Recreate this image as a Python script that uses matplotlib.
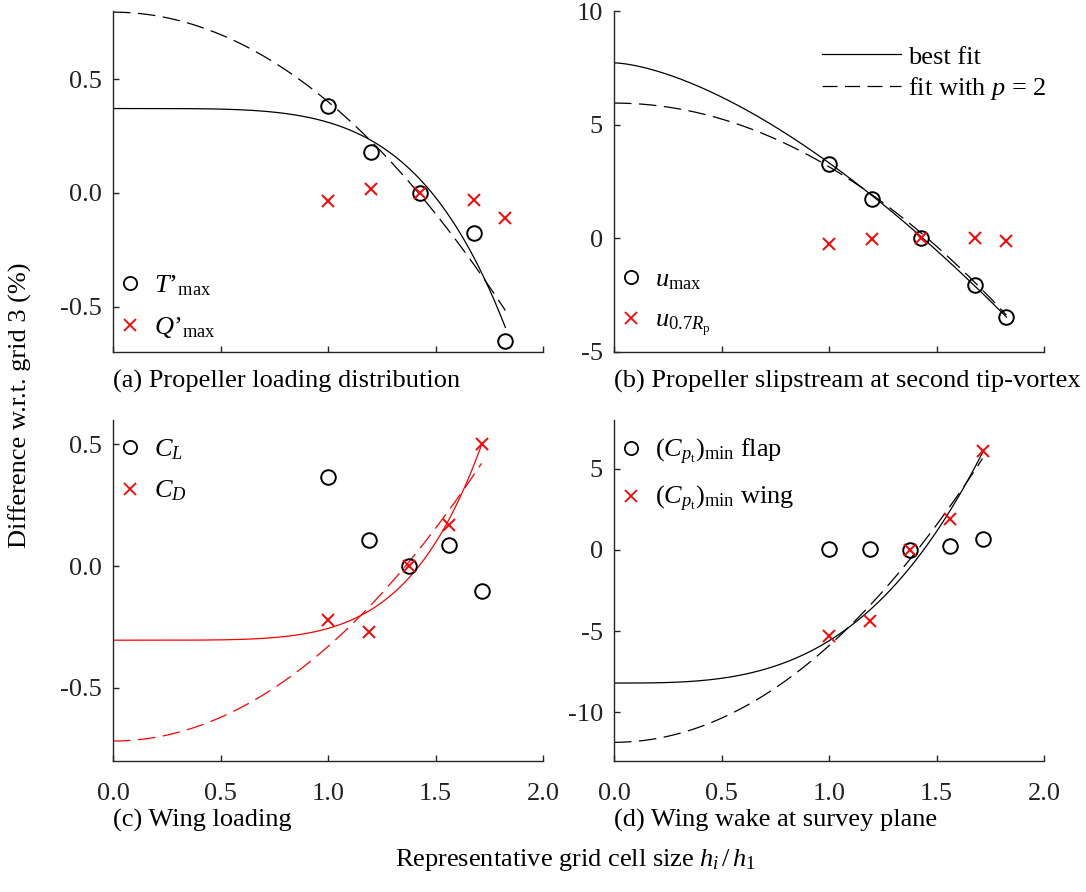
import matplotlib
matplotlib.use("Agg")
import matplotlib.pyplot as plt
from matplotlib.lines import Line2D
import numpy as np

plt.rcParams["font.family"] = ["Liberation Serif", "DejaVu Serif"]
plt.rcParams["mathtext.fontset"] = "custom"
plt.rcParams["mathtext.rm"] = "Liberation Serif"
plt.rcParams["mathtext.it"] = "Liberation Serif:italic"
plt.rcParams["axes.unicode_minus"] = False

# grid size ratios h_i / h_1
h_prop = [1.0, 1.2, 1.43, 1.68, 1.825]
h_wing = [1.0, 1.19, 1.375, 1.565, 1.714]

# (a) propeller loading
T_max = [0.38, 0.18, 0.0, -0.175, -0.65]
Q_max = [-0.035, 0.017, 0.0, -0.03, -0.112]
# fits: [phi0, coef, order]
fit_a_best = [0.371, -0.0605, 4.6]
fit_a_p2 = [0.795, -0.394, 2.0]

# (b) slipstream
u_max = [3.27, 1.74, 0.0, -2.05, -3.46]
u_07R = [-0.27, -0.02, 0.0, 0.0, -0.1]
fit_b_best = [7.72, -4.4, 1.55]
fit_b_p2 = [5.95, -2.8, 2.0]

# (c) wing loading
C_L = [0.365, 0.107, 0.0, 0.087, -0.102]
C_D = [-0.22, -0.27, 0.0, 0.168, 0.5]
fit_c_best = [-0.304, 0.0484, 5.21]
fit_c_p2 = [-0.718, 0.388, 2.0]

# (d) wing wake
Cpt_flap = [0.05, 0.05, 0.0, 0.25, 0.65]
Cpt_wing = [-5.3, -4.4, 0.0, 1.9, 6.1]
fit_d_best = [-8.2, 2.6, 3.15]
fit_d_p2 = [-11.85, 5.95, 2.0]

W, H = 1086, 892
FS = 19
GRAY = "#262626"
RED = (1, 0, 0)
DASH = (0, (14, 6))


def fit_curve(par, hmax):
    h = np.linspace(0, hmax, 300)
    return h, par[0] + par[1] * h ** par[2]


def estilo(ax, ylim, yticks, ylabels, xlabels):
    ax.set_xlim(0, 2.0)
    ax.set_ylim(*ylim)
    ax.set_xticks([0, 0.5, 1.0, 1.5, 2.0])
    if xlabels:
        ax.set_xticklabels(["0.0", "0.5", "1.0", "1.5", "2.0"])
    else:
        ax.set_xticklabels([])
    ax.set_yticks(yticks)
    ax.set_yticklabels(ylabels)
    for s in ["top", "right"]:
        ax.spines[s].set_visible(False)
    for s in ["left", "bottom"]:
        ax.spines[s].set_color(GRAY)
        ax.spines[s].set_linewidth(1.0)
    ax.tick_params(axis="both", direction="in", length=4, width=1.0,
                   colors=GRAY, labelsize=FS, labelcolor="#222222")
    ax.tick_params(axis="x", pad=16)
    ax.tick_params(axis="y", pad=8)
    ax.patch.set_alpha(0)


def marcadores(ax, h, a, b, color_line, fa, fb):
    x1, y1 = fit_curve(fa, h[-1])
    x2, y2 = fit_curve(fb, h[-1])
    ax.plot(x1, y1, "-", color=color_line, lw=0.9)
    ax.plot(x2, y2, color=color_line, lw=0.9, linestyle=DASH)
    ax.plot(h, a, "o", ms=10.5, mfc="none", mec="black", mew=1.4, ls="none")
    ax.plot(h, b, "x", ms=8.5, mec=RED, mew=1.4, ls="none")


def legenda(ax, lab1, lab2, loc, anchor):
    hs = [
        Line2D([], [], marker="o", ms=9.5, mfc="none", mec="black", mew=1.3, ls="none"),
        Line2D([], [], marker="x", ms=8, mec=RED, mew=1.3, ls="none"),
    ]
    leg = ax.legend(hs, [lab1, lab2], loc=loc, bbox_to_anchor=anchor, frameon=False,
                    fontsize=FS, handlelength=0.9, handletextpad=0.45,
                    labelspacing=0.65, borderaxespad=0, borderpad=0)
    return leg


fig = plt.figure(figsize=(W / 100, H / 100), dpi=100)
ax_a = fig.add_axes([113 / W, 1 - 352 / H, 430 / W, 341 / H])
ax_b = fig.add_axes([614 / W, 1 - 352 / H, 430 / W, 341 / H])
ax_c = fig.add_axes([113 / W, 1 - 761 / H, 430 / W, 341 / H])
ax_d = fig.add_axes([614 / W, 1 - 761 / H, 430 / W, 341 / H])

# (a)
marcadores(ax_a, h_prop, T_max, Q_max, "black", fit_a_best, fit_a_p2)
estilo(ax_a, (-0.7, 0.8), [-0.5, 0, 0.5], ["-0.5", "0.0", "0.5"], False)
legenda(ax_a, r"$T$’${}_{\mathrm{max}}$", r"$Q$’${}_{\mathrm{max}}$",
        "lower left", (0.012, 0.035))
ax_a.text(0, -0.087, "(a) Propeller loading distribution", transform=ax_a.transAxes,
          ha="left", va="center", fontsize=FS)

# (b)
marcadores(ax_b, h_prop, u_max, u_07R, "black", fit_b_best, fit_b_p2)
estilo(ax_b, (-5, 10), [-5, 0, 5, 10], ["-5", "0", "5", "10"], False)
lh = [Line2D([], [], color="black", lw=0.9),
      Line2D([], [], color="black", lw=0.9, linestyle=(0, (12, 6)))]
leg2 = ax_b.legend(lh, ["best fit", r"fit with $p$ = 2"], loc="upper right",
                   bbox_to_anchor=(1.007, 0.90), frameon=False, fontsize=FS,
                   handlelength=3.0, handletextpad=0.27, labelspacing=0.25,
                   borderaxespad=0, borderpad=0)
ax_b.add_artist(leg2)
legenda(ax_b, r"$u_{\mathrm{max}}$", r"$u_{0.7R_{\mathrm{p}}}$", "lower left", (0.012, 0.04))
ax_b.text(0, -0.087, "(b) Propeller slipstream at second tip-vortex",
          transform=ax_b.transAxes, ha="left", va="center", fontsize=FS)

# (c)
marcadores(ax_c, h_wing, C_L, C_D, RED, fit_c_best, fit_c_p2)
estilo(ax_c, (-0.8, 0.6), [-0.5, 0, 0.5], ["-0.5", "0.0", "0.5"], True)
legenda(ax_c, r"$C_L$", r"$C_D$", "upper left", (0.012, 0.95))
ax_c.text(0, -0.173, "(c) Wing loading", transform=ax_c.transAxes,
          ha="left", va="center", fontsize=FS)

# (d)
marcadores(ax_d, h_wing, Cpt_flap, Cpt_wing, "black", fit_d_best, fit_d_p2)
estilo(ax_d, (-13, 8), [-10, -5, 0, 5], ["-10", "-5", "0", "5"], True)
legenda(ax_d, r"$(C_{p_{\mathrm{t}}})_{\mathrm{min}}$ flap",
        r"$(C_{p_{\mathrm{t}}})_{\mathrm{min}}$ wing", "upper left", (0.012, 0.95))
ax_d.text(0, -0.173, "(d) Wing wake at survey plane", transform=ax_d.transAxes,
          ha="left", va="center", fontsize=FS)

fig.text(20 / W, 1 - 405 / H, "Difference w.r.t. grid 3 (%)", rotation=90,
         ha="center", va="center", fontsize=FS)
fig.text(575 / W, 1 - 860 / H, r"Representative grid cell size $h_i\,/\,h_1$",
         ha="center", va="center", fontsize=FS)

fig.savefig("out.png", dpi=100)
plt.close(fig)
